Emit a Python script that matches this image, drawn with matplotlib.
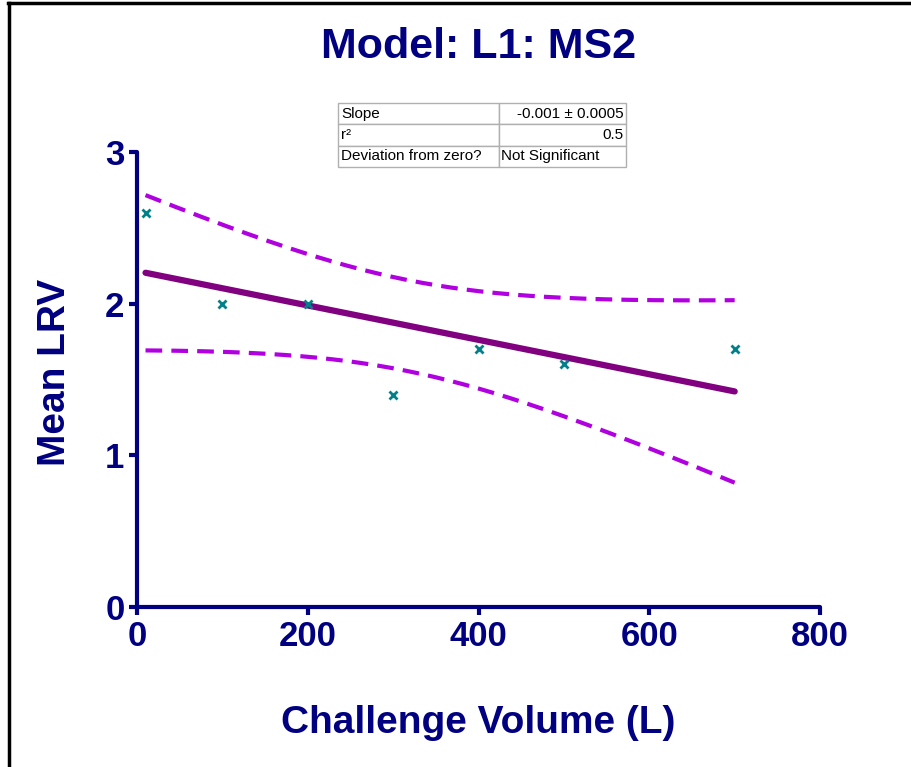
import numpy as np
import matplotlib
matplotlib.use("Agg")
import matplotlib.pyplot as plt
from matplotlib import font_manager
from matplotlib.lines import Line2D

# data
volume = np.array([10, 100, 200, 300, 400, 500, 700])
mean_lrv = np.array([2.6, 2.0, 2.0, 1.4, 1.7, 1.6, 1.7])
x_ticks = [0, 200, 400, 600, 800]
y_ticks = [0, 1, 2, 3]
table_rows = [["Slope", "-0.001 \u00b1 0.0005"],
              ["r\u00b2", "0.5"],
              ["Deviation from zero?", "Not Significant"]]

NAVY = "#000080"

names = {f.name for f in font_manager.fontManager.ttflist}
narrow = "Liberation Sans Narrow" if "Liberation Sans Narrow" in names else "Liberation Sans"
plt.rcParams["font.family"] = ["Liberation Sans", "DejaVu Sans"]

# linear fit and 95% confidence band of the mean
n = len(volume)
slope, intercept = np.polyfit(volume, mean_lrv, 1)
resid = mean_lrv - (slope * volume + intercept)
s = np.sqrt(np.sum(resid ** 2) / (n - 2))
sxx = np.sum((volume - volume.mean()) ** 2)
t_crit = 2.571  # t(0.975, df=5)
xf = np.linspace(volume.min(), volume.max(), 200)
yf = slope * xf + intercept
half = t_crit * s * np.sqrt(1.0 / n + (xf - volume.mean()) ** 2 / sxx)

fig = plt.figure(figsize=(9.12, 7.67), dpi=100)
ax = fig.add_axes([0.1502, 0.2086, 0.749, 0.5932])

ax.plot(xf, yf + half, color="#B000E0", lw=3, ls=(0, (4, 2.2)), clip_on=False)
ax.plot(xf, yf - half, color="#B000E0", lw=3, ls=(0, (4, 2.2)), clip_on=False)
ax.plot(xf, yf, color="#800080", lw=4.5, solid_capstyle="round", clip_on=False)
ax.plot(volume, mean_lrv, "x", color="#00808A", ms=6, mew=2, clip_on=False)

ax.set_xlim(0, 800)
ax.set_ylim(0, 3)
ax.set_xticks(x_ticks)
ax.set_yticks(y_ticks)
for side in ("top", "right"):
    ax.spines[side].set_visible(False)
for side in ("left", "bottom"):
    ax.spines[side].set_color(NAVY)
    ax.spines[side].set_linewidth(3)
    ax.spines[side].set_capstyle("round")
ax.tick_params(colors=NAVY, width=3, length=6, pad=3)
for lab in ax.get_xticklabels() + ax.get_yticklabels():
    lab.set_fontfamily(narrow)
    lab.set_fontweight("bold")
    lab.set_fontsize(25)

fig.text(0.5245, 0.939, "Model: L1: MS2", ha="center", va="center",
         fontsize=31, fontweight="bold", color=NAVY)
fig.text(0.5245, 0.057, "Challenge Volume (L)", ha="center", va="center",
         fontsize=28, fontweight="bold", color=NAVY)
fig.text(0.060, 0.515, "Mean LRV", ha="center", va="center", rotation=90,
         fontsize=28, fontweight="bold", color=NAVY)

# results table
tbl = ax.table(cellText=table_rows, cellLoc="left",
               bbox=[0.294, 0.967, 0.422, 0.141], colWidths=[0.559, 0.441])
tbl.auto_set_font_size(False)
for (r, c), cell in tbl.get_celld().items():
    cell.set_edgecolor("#B0B0B0")
    cell.set_linewidth(1)
    cell.PAD = 0.02
    txt = cell.get_text()
    txt.set_fontsize(11)
    if c == 1 and r < 2:
        cell._loc = "right"
        txt.set_ha("right")

# outer frame, top and left only
fig.add_artist(Line2D([0.0088, 1.0], [0.9961, 0.9961], color="black", lw=2.5,
                      transform=fig.transFigure))
fig.add_artist(Line2D([0.0099, 0.0099], [0.0, 0.9961], color="black", lw=2.5,
                      transform=fig.transFigure))

fig.savefig("out.png", dpi=100)
